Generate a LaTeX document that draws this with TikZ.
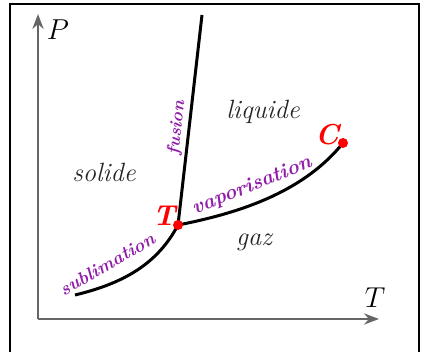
\documentclass[tikz,border=0pt]{standalone}
\usetikzlibrary{positioning,arrows.meta}

\definecolor{phasepurple}{RGB}{145,30,170}

\begin{document}
\begin{tikzpicture}[
    x=0.5pt, y=-0.5pt,
    >=Stealth,
    axis/.style={
        draw=gray!80!black,
        line width=1pt,
        ->
    },
    curve/.style={
        draw=black,
        line width=1.5pt
    },
    region/.style={
        font=\fontsize{13.2}{15}\selectfont\itshape,
        text=black!85
    },
    linelabel/.style={
        text=phasepurple,
        inner sep=1pt
    },
    pointlabel/.style={
        font=\Large\bfseries\itshape,
        text=red
    },
    dot/.style={
        circle,
        fill=red,
        inner sep=0pt,
        minimum size=5pt
    }
]
\useasboundingbox (0,0) rectangle (424,352);

% Frame
\draw[line width=1pt] (10,352) -- (10,4) -- (419,4) -- (419,352);

% Axes
\coordinate (origin) at (38,319);
\coordinate (p_top) at (38,14);
\coordinate (t_end) at (379,319);
\draw[axis] (origin) -- (p_top);
\draw[axis] (origin) -- (t_end);
\node[font=\Large] (p_lab) at (58,30) {$P$};
\node[font=\Large] (t_lab) at (375,298) {$T$};

% Special points
\coordinate (triple) at (178,225);
\coordinate (crit) at (343,143);
\coordinate (fus_end) at (202,15);
\coordinate (sub_start) at (75,295);

% Phase boundaries
\draw[curve] (triple) -- (fus_end);
\draw[curve] (triple) .. controls (245,212) and (305,190) .. (crit);
\draw[curve] (sub_start) .. controls (125,283) and (158,263) .. (triple);

\node[dot] (triple_dot) at (triple) {};
\node[dot] (crit_dot) at (crit) {};
\node[pointlabel] (triple_lab) at (164,216) {T};
\node[pointlabel] (crit_lab) at (327,135) {C};

% Regions
\node[region] (solide) at (104,172) {solide};
\node[region] (liquide) at (263,112) {liquide};
\node[region] (gaz) at (254,242) {gaz};

% Boundary labels
\node[linelabel, font=\fontsize{8.8}{10}\selectfont\bfseries\itshape, rotate=83.5] (fusion) at (177,128) {fusion};
\node[linelabel, font=\fontsize{10.3}{12}\selectfont\bfseries\itshape, rotate=22] (vapo) at (252,186) {vaporisation};
\node[linelabel, font=\fontsize{9.2}{11}\selectfont\bfseries\itshape, rotate=30] (subli) at (107,264) {sublimation};

\end{tikzpicture}
\end{document}
